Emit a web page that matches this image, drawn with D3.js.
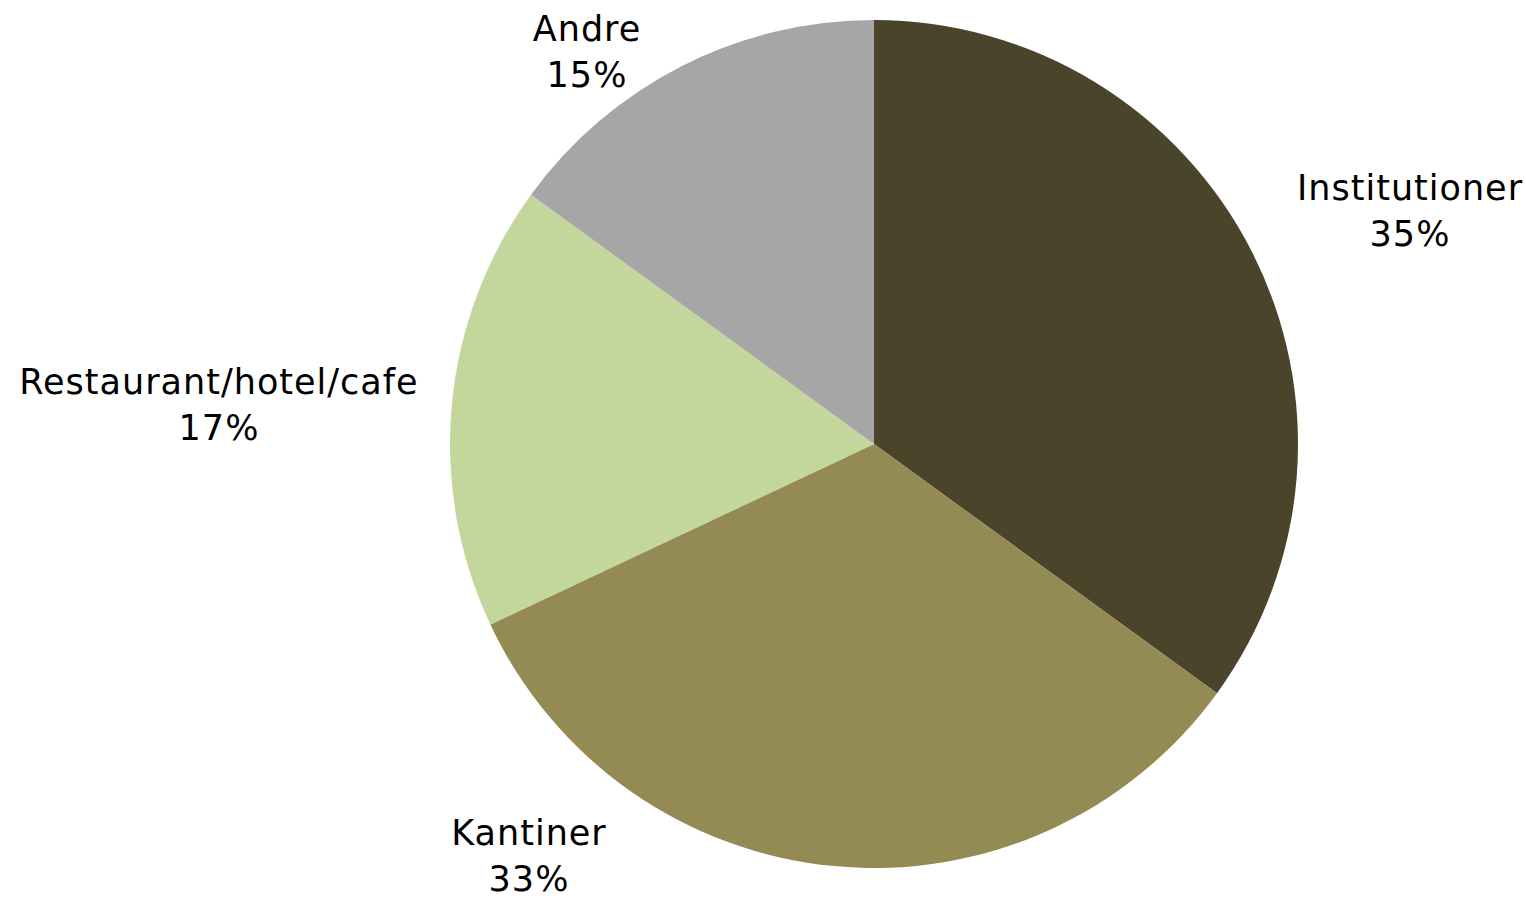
<!DOCTYPE html>
<html>
<head>
<meta charset="utf-8">
<script src="https://cdn.jsdelivr.net/npm/d3@7"></script>
<style>
  html, body { margin: 0; padding: 0; background: #ffffff; }
  svg { display: block; }
</style>
</head>
<body>
<svg id="chart" width="1526" height="901"></svg>
<script>
// Share of meals by segment (percent)
const categories = ["Institutioner", "Kantiner", "Restaurant/hotel/cafe", "Andre"];
const values = [35, 33, 17, 15];
const colors = ["#4a452a", "#948a54", "#c3d69b", "#a6a6a6"];

// Label anchor points (horizontal centre, first-line baseline)
const labelAnchors = [
  [1410, 200],
  [529, 845],
  [219, 394],
  [587, 41]
];

const width = 1526, height = 901;
const cx = 874, cy = 444, radius = 424;
const lineGap = 46;

const svg = d3.select("#chart");
const g = svg.append("g").attr("transform", `translate(${cx},${cy})`);

const pie = d3.pie().sort(null).value(d => d.value);
const arc = d3.arc().innerRadius(0).outerRadius(radius);

const data = categories.map((c, i) => ({ name: c, value: values[i], color: colors[i] }));
const arcs = pie(data);

g.selectAll("path")
  .data(arcs)
  .join("path")
  .attr("d", arc)
  .attr("fill", d => d.data.color);

const total = d3.sum(values);
const labels = svg.append("g")
  .attr("font-family", "'DejaVu Sans', sans-serif")
  .attr("font-size", 35)
  .attr("letter-spacing", 1)
  .attr("fill", "#000")
  .attr("text-anchor", "middle");

arcs.forEach((d, i) => {
  const [x, y] = labelAnchors[i];
  const t = labels.append("text").attr("x", x).attr("y", y);
  t.append("tspan").attr("x", x).attr("dy", 0).text(d.data.name);
  t.append("tspan").attr("x", x).attr("dy", lineGap)
    .text(d3.format(".0%")(d.data.value / total));
});
</script>
</body>
</html>
